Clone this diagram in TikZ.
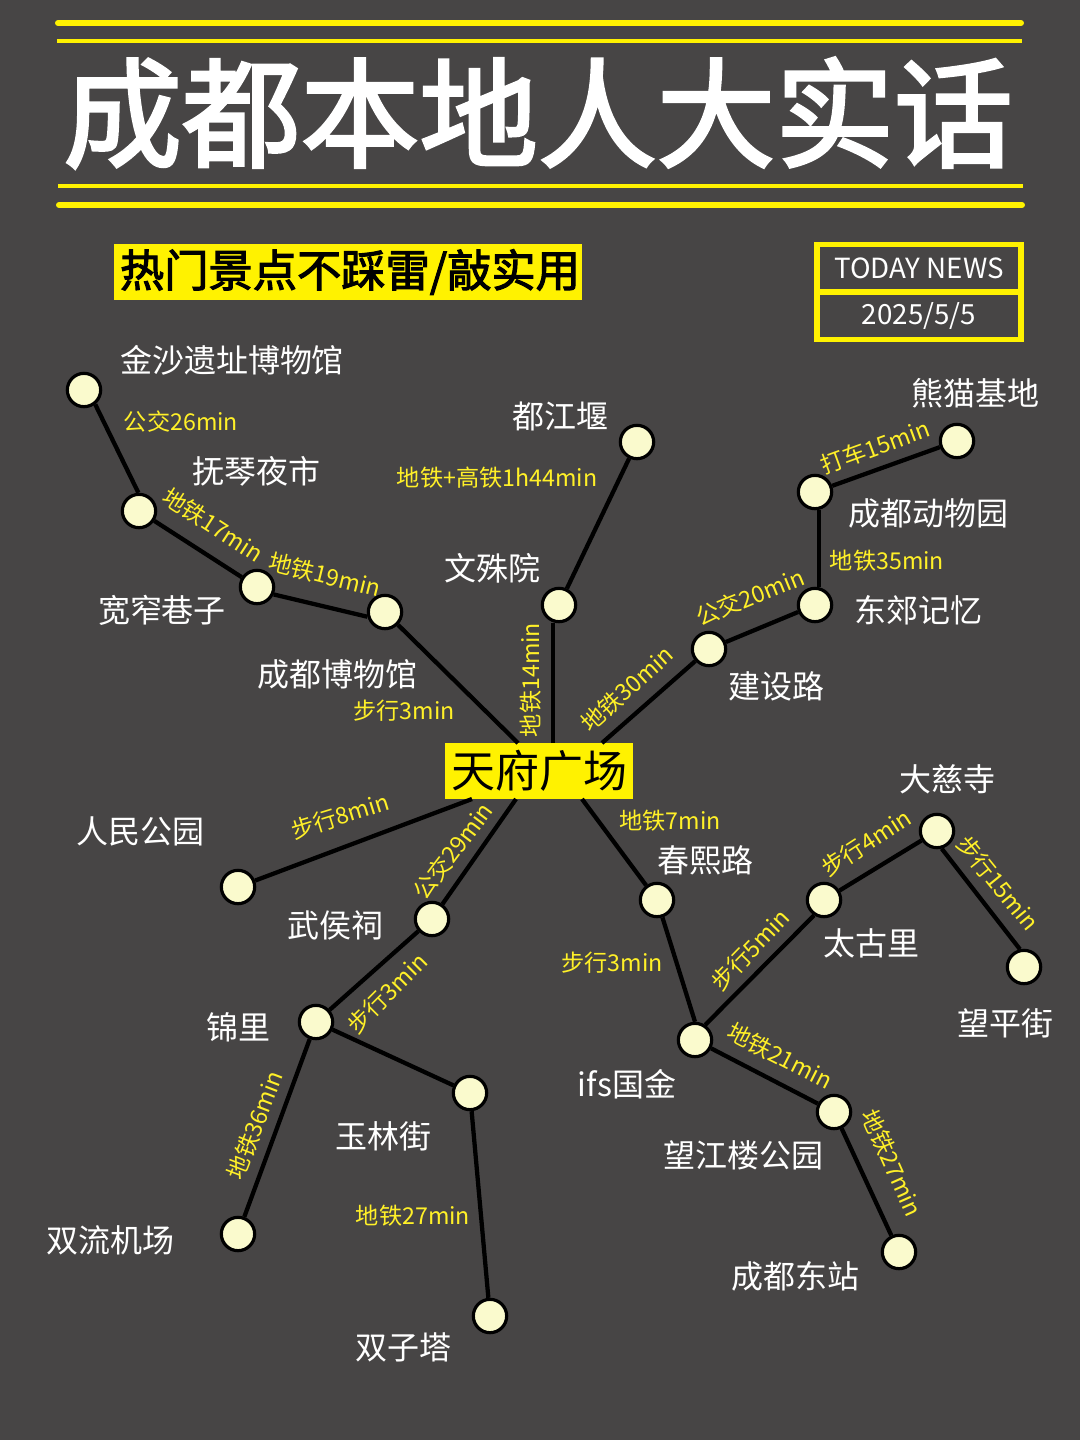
\documentclass[tikz,border=0pt]{standalone}
\usepackage{fontspec}
\setmainfont{Noto Sans CJK SC}
\newfontfamily\heavyfont[FakeBold=2.5]{Noto Sans CJK SC}
\newfontfamily\bannerfont[FakeBold=2.5]{Noto Sans CJK SC}
\definecolor{bgdark}{RGB}{71,69,69}
\definecolor{markyellow}{RGB}{255,242,0}
\definecolor{labelyellow}{RGB}{255,240,40}
\definecolor{stationfill}{RGB}{250,250,205}
\tikzset{
  station/.style={circle,draw=black,line width=2.4pt,fill=stationfill,minimum size=25pt,inner sep=0pt},
  route/.style={draw=black,line width=3.2pt},
  placename/.style={text=white,inner sep=0.75pt,font=\fontsize{24}{28}\selectfont},
  timelabel/.style={text=labelyellow,inner sep=0.75pt,font=\fontsize{17.4}{20}\selectfont},
  thickrule/.style={draw=markyellow,line width=4.5pt,line cap=round},
  thinrule/.style={draw=markyellow,line width=2.3pt},
}
\begin{document}
\begin{tikzpicture}[x=0.75pt,y=0.75pt,yscale=-1,xscale=1]
\useasboundingbox (0,0) rectangle (1080,1440);
\fill [bgdark] (0,0) rectangle (1080,1440);

%Header rules
\coordinate (ruleaw) at (58,23); \coordinate (ruleae) at (1021,23);
\coordinate (rulebw) at (57,41); \coordinate (rulebe) at (1022,41);
\coordinate (rulecw) at (58,186); \coordinate (rulece) at (1023,186);
\coordinate (ruledw) at (59,205); \coordinate (rulede) at (1022,205);
\draw [thickrule] (ruleaw) -- (ruleae) ;
\draw [thinrule] (rulebw) -- (rulebe) ;
\draw [thinrule] (rulecw) -- (rulece) ;
\draw [thickrule] (ruledw) -- (rulede) ;

% Text Node
\draw (538,113) node (title) [text=white,inner sep=0pt,font=\fontsize{89}{96}\heavyfont] {成都本地人大实话};
% Text Node
\draw (348,272) node (banner) [fill=markyellow,text=black,minimum width=351pt,minimum height=42pt,inner sep=0pt,font=\fontsize{33.2}{38}\bannerfont] {\hspace*{3pt}热门景点不踩雷/敲实用};
% Text Node
\draw (919,268) node (newsbox) [draw=markyellow,line width=3.8pt,minimum width=153pt,minimum height=35pt,inner sep=0pt,text=white,font=\fontsize{20.8}{25}\selectfont] {TODAY NEWS};
% Text Node
\draw (919,316) node (datebox) [draw=markyellow,line width=3.8pt,minimum width=153pt,minimum height=35pt,inner sep=0pt,text=white,font=\fontsize{20.8}{25}\selectfont] {2025/5/5};

%Hub
\draw (539,771) node (tianfu) [fill=markyellow,text=black,minimum width=141pt,minimum height=42pt,inner sep=0pt,font=\fontsize{33}{38}\selectfont] {天府广场};
\coordinate (hubnw) at (518,743);
\coordinate (hubn) at (553,743);
\coordinate (hubne) at (602,743);
\coordinate (hubse) at (582,799);
\coordinate (hubs) at (516,799);
\coordinate (hubsw) at (472,799);

%Stations
\node (jinsha) [station] at (84,390) {};
\node (fuqin) [station] at (139,511) {};
\node (kuanzhai) [station] at (257,587) {};
\node (bowuguan) [station] at (385,612) {};
\node (dujiangyan) [station] at (637,442) {};
\node (wenshu) [station] at (559,605) {};
\node (xiongmao) [station] at (957,441) {};
\node (dongwu) [station] at (815,492) {};
\node (dongjiao) [station] at (815,605) {};
\node (jianshe) [station] at (709,649) {};
\node (renmin) [station] at (238,887) {};
\node (wuhou) [station] at (432,919) {};
\node (jinli) [station] at (316,1022) {};
\node (yulin) [station] at (470,1093) {};
\node (shuangliu) [station] at (238,1234) {};
\node (shuangzi) [station] at (490,1316) {};
\node (chunxi) [station] at (657,900) {};
\node (ifs) [station] at (695,1040) {};
\node (taiguli) [station] at (824,900) {};
\node (dacisi) [station] at (937,831) {};
\node (wangping) [station] at (1024,967) {};
\node (wangjiang) [station] at (834,1112) {};
\node (dongzhan) [station] at (899,1252) {};

%Routes
\draw [route] (jinsha.-52) -- (fuqin.92) ;
\draw [route] (fuqin) -- (kuanzhai) ;
\draw [route] (kuanzhai.-24) -- (bowuguan.195) ;
\draw [route] (bowuguan) -- (hubnw) ;
\draw [route] (dujiangyan) -- (wenshu) ;
\draw [route] (hubn) -- (hubn |- wenshu.south) ;
\draw [route] (xiongmao) -- (dongwu) ;
\draw [route] ([xshift=3]dongwu.south) -- ([xshift=3]dongjiao.north) ;
\draw [route] (dongjiao) -- (jianshe) ;
\draw [route] (jianshe) -- (hubne) ;
\draw [route] (hubse) -- (chunxi) ;
\draw [route] (chunxi) -- (ifs.north) ;
\draw [route] (ifs.56) -- (taiguli.-123) ;
\draw [route] (taiguli) -- (dacisi) ;
\draw [route] (dacisi.-75) -- (wangping.103) ;
\draw [route] (ifs) -- (wangjiang) ;
\draw [route] (wangjiang) -- (dongzhan) ;
\draw [route] (hubs) -- (wuhou) ;
\draw [route] (wuhou) -- (jinli) ;
\draw [route] (jinli) -- (shuangliu) ;
\draw [route] (jinli) -- (yulin) ;
\draw [route] (yulin) -- (shuangzi) ;
\draw [route] (hubsw) -- (renmin) ;

% Place names
\draw (232,360) node (jinshaname) [placename] {金沙遗址博物馆};
\draw (256,471) node (fuqinname) [placename] {抚琴夜市};
\draw (162,610) node (kuanzhainame) [placename] {宽窄巷子};
\draw (337,674) node (bowuguanname) [placename] {成都博物馆};
\draw (560,416) node (dujiangyanname) [placename] {都江堰};
\draw (492,568) node (wenshuname) [placename] {文殊院};
\draw (975,393) node (xiongmaoname) [placename] {熊猫基地};
\draw (928,513) node (dongwuname) [placename] {成都动物园};
\draw (918,610) node (dongjiaoname) [placename] {东郊记忆};
\draw (776,686) node (jianshename) [placename] {建设路};
\draw (140,831) node (renminname) [placename] {人民公园};
\draw (335,925) node (wuhouname) [placename] {武侯祠};
\draw (238,1027) node (jinliname) [placename] {锦里};
\draw (383,1136) node (yulinname) [placename] {玉林街};
\draw (110,1240) node (shuangliuname) [placename] {双流机场};
\draw (403,1347) node (shuangziname) [placename] {双子塔};
\draw (705,860) node (chunxiname) [placename] {春熙路};
\draw (871,943) node (taiguliname) [placename] {太古里};
\draw (947,779) node (dacisiname) [placename] {大慈寺};
\draw (1005,1023) node (wangpingname) [placename] {望平街};
\draw (627,1084) node (ifsname) [placename] {ifs国金};
\draw (743,1155) node (wangjiangname) [placename] {望江楼公园};
\draw (795,1276) node (dongzhanname) [placename] {成都东站};

% Travel times
\draw (181,422) node (timejinsha) [timelabel] {公交26min};
\draw (213,525) node (timefuqin) [timelabel,rotate=-33] {地铁17min};
\draw (325,575) node (timekuanzhai) [timelabel,rotate=-14] {地铁19min};
\draw (404,711) node (timebowuguan) [timelabel] {步行3min};
\draw (497,478) node (timedujiangyan) [timelabel] {地铁+高铁1h44min};
\draw (531,680) node (timewenshu) [timelabel,rotate=90] {地铁14min};
\draw (627,689) node (timejianshe) [timelabel,rotate=42] {地铁30min};
\draw (750,597) node (timedongjiao) [timelabel,rotate=22] {公交20min};
\draw (875,447) node (timexiongmao) [timelabel,rotate=20] {打车15min};
\draw (887,561) node (timedongwu) [timelabel] {地铁35min};
\draw (670,821) node (timechunxi) [timelabel] {地铁7min};
\draw (340,816) node (timerenmin) [timelabel,rotate=17] {步行8min};
\draw (453,851) node (timewuhou) [timelabel,rotate=53] {公交29min};
\draw (387,993) node (timejinli) [timelabel,rotate=45] {步行3min};
\draw (612,963) node (timeifs) [timelabel] {步行3min};
\draw (750,950) node (timetaiguli) [timelabel,rotate=46] {步行5min};
\draw (866,843) node (timedacisi) [timelabel,rotate=33] {步行4min};
\draw (998,883) node (timewangping) [timelabel,rotate=-51] {步行15min};
\draw (780,1056) node (timewangjiang) [timelabel,rotate=-27] {地铁21min};
\draw (892,1163) node (timedongzhan) [timelabel,rotate=-66] {地铁27min};
\draw (255,1125) node (timeshuangliu) [timelabel,rotate=69] {地铁36min};
\draw (413,1216) node (timeshuangzi) [timelabel] {地铁27min};

\end{tikzpicture}
\end{document}
